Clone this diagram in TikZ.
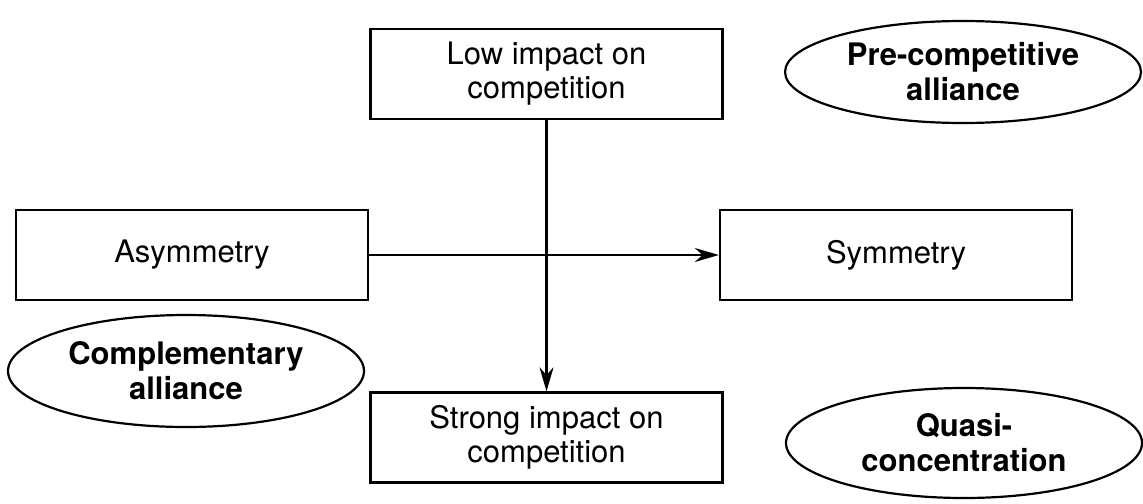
\documentclass[tikz,border=0pt]{standalone}
\usepackage{fontspec}
\setmainfont{TeX Gyre Heros}
\usetikzlibrary{shapes.geometric,arrows.meta}

\tikzset{
	kasten/.style={draw=black, line width=1.2pt, fill=white, align=center,
		inner sep=0pt, minimum width=176pt, minimum height=45pt,
		font=\fontsize{15.5}{17}\selectfont},
	oval/.style={draw=black, line width=1.1pt, ellipse, align=center,
		inner sep=0pt, minimum width=178pt, minimum height=54pt,
		font=\fontsize{15.5}{17.5}\selectfont\bfseries},
	pfeil/.style={line width=1.1pt, -{Stealth[length=12pt, width=7pt]}}
}

\begin{document}
\begin{tikzpicture}[x=0.5pt, y=-0.5pt]
	\useasboundingbox (0,0) rectangle (1143,503);
	% Achsen
	\node[kasten] (low) at (546.5, 74) {Low impact on\\competition};
	\node[kasten] (asym) at (192, 255) {Asymmetry};
	\node[kasten] (sym) at (896, 255) {Symmetry};
	\node[kasten] (strong) at (546.5, 437.5) {Strong impact on\\competition};
	% Allianzen
	\node[oval, minimum height=51pt] (pre) at (963, 72) {Pre-competitive\\alliance};
	\node[oval, minimum height=56pt] (comp) at (186, 371) {Complementary\\alliance};
	\node[oval, minimum height=55pt] (quasi) at (964, 443) {Quasi-\\concentration};
	% Pfeile
	\draw[pfeil] (asym.east) -- (sym.west);
	\draw[pfeil] (low.south) -- (strong.north);
\end{tikzpicture}
\end{document}
